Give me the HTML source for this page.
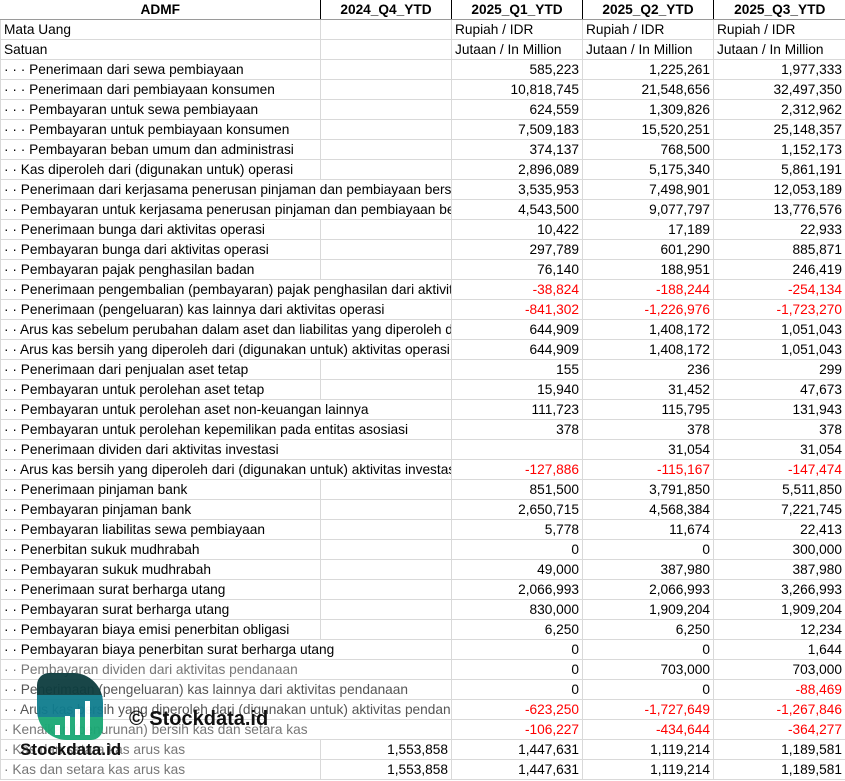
<!DOCTYPE html><html><head><style>
body{margin:0;width:845px;height:781px;overflow:hidden;background:#fff;font-family:"Liberation Sans",Arial,sans-serif;font-size:13.7px;color:#000;position:relative}
table{border-collapse:collapse;table-layout:fixed;position:absolute;left:0;top:0;width:845px}
td{height:19px;padding:0 3px;border:1px solid #d9d9d9;white-space:nowrap;overflow:hidden;text-overflow:clip;line-height:19px}
td.n{text-align:right}
.r{color:#f00}
th{height:19px;font-weight:bold;border-right:1px solid #000;border-bottom:1px solid #9a9a9a;font-size:13.7px;padding:0;overflow:hidden}
.logo{position:absolute;left:37px;top:673px;width:66px;height:67px;border-radius:12px 30px 12px 30px;overflow:hidden;opacity:.95}
</style></head><body>
<table>
<colgroup><col style="width:320px"><col style="width:131px"><col style="width:131px"><col style="width:131px"><col style="width:132px"></colgroup>
<tr><th style="width:320px">ADMF</th><th style="width:131px">2024_Q4_YTD</th><th style="width:131px">2025_Q1_YTD</th><th style="width:131px">2025_Q2_YTD</th><th style="border-right:none;width:132px">2025_Q3_YTD</th></tr>
<tr><td>Mata Uang</td><td></td><td>Rupiah / IDR</td><td>Rupiah / IDR</td><td>Rupiah / IDR</td></tr>
<tr><td>Satuan</td><td></td><td>Jutaan / In Million</td><td>Jutaan / In Million</td><td>Jutaan / In Million</td></tr>
<tr><td>· · · Penerimaan dari sewa pembiayaan</td><td></td><td class=n>585,223</td><td class=n>1,225,261</td><td class=n>1,977,333</td></tr>
<tr><td>· · · Penerimaan dari pembiayaan konsumen</td><td></td><td class=n>10,818,745</td><td class=n>21,548,656</td><td class=n>32,497,350</td></tr>
<tr><td>· · · Pembayaran untuk sewa pembiayaan</td><td></td><td class=n>624,559</td><td class=n>1,309,826</td><td class=n>2,312,962</td></tr>
<tr><td>· · · Pembayaran untuk pembiayaan konsumen</td><td></td><td class=n>7,509,183</td><td class=n>15,520,251</td><td class=n>25,148,357</td></tr>
<tr><td>· · · Pembayaran beban umum dan administrasi</td><td></td><td class=n>374,137</td><td class=n>768,500</td><td class=n>1,152,173</td></tr>
<tr><td>· · Kas diperoleh dari (digunakan untuk) operasi</td><td></td><td class=n>2,896,089</td><td class=n>5,175,340</td><td class=n>5,861,191</td></tr>
<tr><td colspan=2>· · Penerimaan dari kerjasama penerusan pinjaman dan pembiayaan bersama</td><td class=n>3,535,953</td><td class=n>7,498,901</td><td class=n>12,053,189</td></tr>
<tr><td colspan=2>· · Pembayaran untuk kerjasama penerusan pinjaman dan pembiayaan bersama</td><td class=n>4,543,500</td><td class=n>9,077,797</td><td class=n>13,776,576</td></tr>
<tr><td>· · Penerimaan bunga dari aktivitas operasi</td><td></td><td class=n>10,422</td><td class=n>17,189</td><td class=n>22,933</td></tr>
<tr><td>· · Pembayaran bunga dari aktivitas operasi</td><td></td><td class=n>297,789</td><td class=n>601,290</td><td class=n>885,871</td></tr>
<tr><td>· · Pembayaran pajak penghasilan badan</td><td></td><td class=n>76,140</td><td class=n>188,951</td><td class=n>246,419</td></tr>
<tr><td colspan=2>· · Penerimaan pengembalian (pembayaran) pajak penghasilan dari aktivitas</td><td class="n r">-38,824</td><td class="n r">-188,244</td><td class="n r">-254,134</td></tr>
<tr><td colspan=2>· · Penerimaan (pengeluaran) kas lainnya dari aktivitas operasi</td><td class="n r">-841,302</td><td class="n r">-1,226,976</td><td class="n r">-1,723,270</td></tr>
<tr><td colspan=2>· · Arus kas sebelum perubahan dalam aset dan liabilitas yang diperoleh dari</td><td class=n>644,909</td><td class=n>1,408,172</td><td class=n>1,051,043</td></tr>
<tr><td colspan=2>· · Arus kas bersih yang diperoleh dari (digunakan untuk) aktivitas operasi</td><td class=n>644,909</td><td class=n>1,408,172</td><td class=n>1,051,043</td></tr>
<tr><td>· · Penerimaan dari penjualan aset tetap</td><td></td><td class=n>155</td><td class=n>236</td><td class=n>299</td></tr>
<tr><td>· · Pembayaran untuk perolehan aset tetap</td><td></td><td class=n>15,940</td><td class=n>31,452</td><td class=n>47,673</td></tr>
<tr><td colspan=2>· · Pembayaran untuk perolehan aset non-keuangan lainnya</td><td class=n>111,723</td><td class=n>115,795</td><td class=n>131,943</td></tr>
<tr><td colspan=2>· · Pembayaran untuk perolehan kepemilikan pada entitas asosiasi</td><td class=n>378</td><td class=n>378</td><td class=n>378</td></tr>
<tr><td colspan=2>· · Penerimaan dividen dari aktivitas investasi</td><td></td><td class=n>31,054</td><td class=n>31,054</td></tr>
<tr><td colspan=2>· · Arus kas bersih yang diperoleh dari (digunakan untuk) aktivitas investasi</td><td class="n r">-127,886</td><td class="n r">-115,167</td><td class="n r">-147,474</td></tr>
<tr><td>· · Penerimaan pinjaman bank</td><td></td><td class=n>851,500</td><td class=n>3,791,850</td><td class=n>5,511,850</td></tr>
<tr><td>· · Pembayaran pinjaman bank</td><td></td><td class=n>2,650,715</td><td class=n>4,568,384</td><td class=n>7,221,745</td></tr>
<tr><td>· · Pembayaran liabilitas sewa pembiayaan</td><td></td><td class=n>5,778</td><td class=n>11,674</td><td class=n>22,413</td></tr>
<tr><td>· · Penerbitan sukuk mudhrabah</td><td></td><td class=n>0</td><td class=n>0</td><td class=n>300,000</td></tr>
<tr><td>· · Pembayaran sukuk mudhrabah</td><td></td><td class=n>49,000</td><td class=n>387,980</td><td class=n>387,980</td></tr>
<tr><td>· · Penerimaan surat berharga utang</td><td></td><td class=n>2,066,993</td><td class=n>2,066,993</td><td class=n>3,266,993</td></tr>
<tr><td>· · Pembayaran surat berharga utang</td><td></td><td class=n>830,000</td><td class=n>1,909,204</td><td class=n>1,909,204</td></tr>
<tr><td>· · Pembayaran biaya emisi penerbitan obligasi</td><td></td><td class=n>6,250</td><td class=n>6,250</td><td class=n>12,234</td></tr>
<tr><td colspan=2>· · Pembayaran biaya penerbitan surat berharga utang</td><td class=n>0</td><td class=n>0</td><td class=n>1,644</td></tr>
<tr><td colspan=2 style="color:#777">· · Pembayaran dividen dari aktivitas pendanaan</td><td class=n>0</td><td class=n>703,000</td><td class=n>703,000</td></tr>
<tr><td colspan=2 style="color:#555">· · Penerimaan (pengeluaran) kas lainnya dari aktivitas pendanaan</td><td class=n>0</td><td class=n>0</td><td class="n r">-88,469</td></tr>
<tr><td colspan=2 style="color:#555">· · Arus kas bersih yang diperoleh dari (digunakan untuk) aktivitas pendanaan</td><td class="n r">-623,250</td><td class="n r">-1,727,649</td><td class="n r">-1,267,846</td></tr>
<tr><td colspan=2 style="color:#777">· Kenaikan (penurunan) bersih kas dan setara kas</td><td class="n r">-106,227</td><td class="n r">-434,644</td><td class="n r">-364,277</td></tr>
<tr><td style="color:#777">· Kas dan setara kas arus kas</td><td class=n>1,553,858</td><td class=n>1,447,631</td><td class=n>1,119,214</td><td class=n>1,189,581</td></tr>
<tr><td style="color:#777">· Kas dan setara kas arus kas</td><td class=n>1,553,858</td><td class=n>1,447,631</td><td class=n>1,119,214</td><td class=n>1,189,581</td></tr>
</table>
<div class="logo">
<div style="position:absolute;left:0;top:0;width:66px;height:22px;background:#0d3d3f"></div>
<div style="position:absolute;left:0;top:22px;width:66px;height:22px;background:#0f7d8e"></div>
<div style="position:absolute;left:0;top:44px;width:66px;height:23px;background:#1aa874"></div>
<div style="position:absolute;left:18px;top:52px;width:5px;height:10px;background:#fff"></div>
<div style="position:absolute;left:28px;top:43px;width:5px;height:19px;background:#fff"></div>
<div style="position:absolute;left:38px;top:36px;width:5px;height:26px;background:#fff"></div>
<div style="position:absolute;left:48px;top:28px;width:5px;height:34px;background:#fff"></div>
</div>
<div style="position:absolute;left:129px;top:708px;font-size:20px;font-weight:bold;color:#111">© Stockdata.id</div>
<div style="position:absolute;left:20px;top:740px;font-size:17px;font-weight:bold;color:#111">Stockdata.id</div>
</body></html>
